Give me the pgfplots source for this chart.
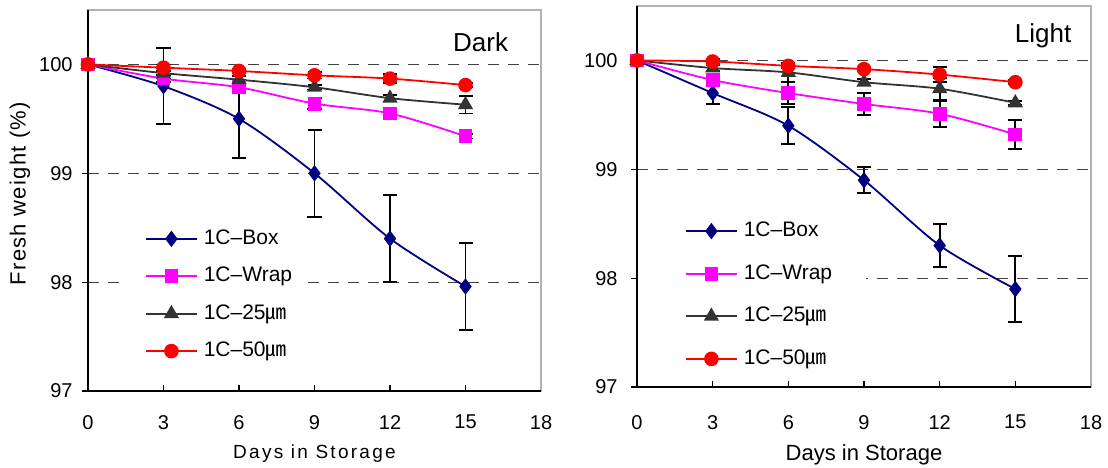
\documentclass[border=0pt]{standalone}
\usepackage{fontspec}
\setmainfont{Liberation Sans}
\newfontfamily\cjk{Noto Sans CJK KR}
\usepackage{pgfplots}
\pgfplotsset{compat=1.18}

\definecolor{boxc}{RGB}{0,0,128}
\definecolor{wrapc}{RGB}{255,0,255}
\definecolor{thinc}{RGB}{51,51,51}
\definecolor{thickc}{RGB}{255,0,0}

\pgfplotsset{
  fw axis/.style={
      scale only axis,
      height=190.5bp,
      xmin=0, xmax=18,
      ymin=97, ymax=100.5,
      xtick={0,3,...,18},
      ytick={97,98,99,100},
      xtick pos=left, ytick pos=left,
      xtick align=inside, ytick align=outside,
      major tick length=3bp,
      tick style={black, line width=0.6bp},
      axis line style={draw=gray!60, line width=0.7bp},
      ymajorgrids,
      major grid style={draw=black!75, line width=0.6bp, dash pattern=on 5.5bp off 4.5bp},
      tick label style={font=\fontsize{10bp}{12bp}\selectfont},
      /pgf/number format/assume math mode=true,
      clip=false,
      legend cell align=left,
      legend style={
          draw=none,
          fill=white,
          anchor=north west,
          inner ysep=5bp,
          column sep=3.25bp,
          font=\fontsize{10.5bp}{12bp}\selectfont,
          nodes={inner sep=0pt, text height=7.5bp, text depth=2bp},
        },
    },
  leg img/.style={
      legend image code/.code={
          \path[draw=none, fill=none] (0bp,0bp) -- (#1,0bp);
          \draw[mark repeat=2, mark phase=2]
          plot coordinates {(#1,0bp) (#1+12.5bp,0bp) (#1+25bp,0bp)};
        }
    },
  errs/.style={
      only marks, mark=*, mark size=0pt, forget plot,
      error bars/.cd, y dir=both, y explicit,
      error mark=-,
      error bar style={black, line width=0.9bp},
      error mark options={rotate=90, black, line width=0.9bp, mark size=3.5bp},
    },
  s box/.style={boxc, line width=0.9bp, smooth, tension=0.5,
      mark=diamond*, mark size=3.4bp, mark options={solid, fill=boxc}},
  s wrap/.style={wrapc, line width=0.9bp, smooth, tension=0.5,
      mark=square*, mark size=3bp, mark options={solid, fill=wrapc}},
  s thin/.style={thinc, line width=0.9bp, smooth, tension=0.5,
      mark=triangle*, mark size=3.5bp, mark options={solid, fill=thinc}},
  s thick/.style={thickc, line width=0.9bp, smooth, tension=0.5,
      mark=*, mark size=3.2bp, mark options={solid, fill=thickc}},
}

\begin{document}
\begin{tikzpicture}
  \path[use as bounding box] (0bp,0bp) rectangle (554bp,234bp);

  % ---------------- Dark ----------------
  \begin{axis}[
      fw axis,
      width=226.5bp,
      at={(44bp,38.5bp)}, anchor=south west,
      yticklabel style={xshift=-1.2bp},
      xticklabel style={yshift=-8.5bp},
      xlabel={\addfontfeature{LetterSpace=12}Days in Storage},
      xlabel style={font=\fontsize{9.5bp}{11bp}\selectfont,
          at={(axis description cs:0.5,-0.165)}, anchor=center},
      ylabel={\addfontfeature{LetterSpace=6}Fresh weight (\%)},
      ylabel style={font=\fontsize{11bp}{13bp}\selectfont,
          at={(axis description cs:-0.15,0.518)}, anchor=center},
      legend style={at={(axis cs:1.55,98.58)}, inner xsep=7bp, row sep=9.2bp},
      leg img=2.5bp,
    ]

    % error bars first, so that the markers sit on top
    \addplot[errs] coordinates {
        (3,99.80) +- (0,0.35)
        (6,99.50) +- (0,0.36)
        (9,99.00) +- (0,0.40)
        (12,98.40) +- (0,0.40)
        (15,97.96) +- (0,0.40)
      };
    \addplot[errs] coordinates {
        (3,99.87) +- (0,0.03)
        (6,99.79) +- (0,0.03)
        (9,99.64) +- (0,0.05)
        (12,99.55) +- (0,0.03)
        (15,99.34) +- (0,0.02)
      };
    \addplot[errs] coordinates {
        (3,99.92) +- (0,0.05)
        (6,99.86) +- (0,0.03)
        (9,99.79) +- (0,0.02)
        (12,99.69) +- (0,0.03)
        (15,99.63) +- (0,0.08)
      };
    \addplot[errs] coordinates {
        (3,99.97) +- (0,0.03)
        (6,99.94) +- (0,0.02)
        (9,99.90) +- (0,0.03)
        (12,99.87) +- (0,0.04)
        (15,99.81) +- (0,0.02)
      };

    \addplot[s box] coordinates {
        (0,100) (3,99.80) (6,99.50) (9,99.00) (12,98.40) (15,97.96)
      };
    \addlegendentry{1C–Box}
    \addplot[s wrap] coordinates {
        (0,100) (3,99.87) (6,99.79) (9,99.64) (12,99.55) (15,99.34)
      };
    \addlegendentry{1C–Wrap}
    \addplot[s thin] coordinates {
        (0,100) (3,99.92) (6,99.86) (9,99.79) (12,99.69) (15,99.63)
      };
    \addlegendentry{1C–25{\cjk ㎛}}
    \addplot[s thick] coordinates {
        (0,100) (3,99.97) (6,99.94) (9,99.90) (12,99.87) (15,99.81)
      };
    \addlegendentry{1C–50{\cjk ㎛}}

    \draw[black, line width=0.8bp]
    (rel axis cs:0,1) -- (rel axis cs:0,0) -- (rel axis cs:1,0);
    \node[font=\fontsize{13bp}{15bp}\selectfont] at (axis cs:15.6,100.2) {Dark};
  \end{axis}

  % ---------------- Light ----------------
  \begin{axis}[
      fw axis,
      width=227bp,
      at={(318.5bp,40.5bp)}, anchor=south west,
      yticklabel style={xshift=-3.2bp},
      xticklabel style={yshift=-10.5bp},
      xlabel={Days in Storage},
      xlabel style={font=\fontsize{11bp}{13bp}\selectfont,
          at={(axis description cs:0.5,-0.178)}, anchor=center},
      legend style={at={(axis cs:0,98.615)}, xshift=0.5bp, inner xsep=17bp, row sep=11.8bp},
      leg img=7bp,
    ]

    \addplot[errs] coordinates {
        (3,99.70) +- (0,0.10)
        (6,99.40) +- (0,0.17)
        (9,98.90) +- (0,0.12)
        (12,98.30) +- (0,0.20)
        (15,97.90) +- (0,0.30)
      };
    \addplot[errs] coordinates {
        (3,99.82) +- (0,0.05)
        (6,99.70) +- (0,0.10)
        (9,99.60) +- (0,0.10)
        (12,99.51) +- (0,0.12)
        (15,99.32) +- (0,0.13)
      };
    \addplot[errs] coordinates {
        (3,99.93) +- (0,0.03)
        (6,99.89) +- (0,0.09)
        (9,99.80) +- (0,0.03)
        (12,99.74) +- (0,0.10)
        (15,99.61) +- (0,0.02)
      };
    \addplot[errs] coordinates {
        (3,99.99) +- (0,0.02)
        (6,99.95) +- (0,0.02)
        (9,99.92) +- (0,0.02)
        (12,99.87) +- (0,0.07)
        (15,99.80) +- (0,0.02)
      };

    \addplot[s box] coordinates {
        (0,100) (3,99.70) (6,99.40) (9,98.90) (12,98.30) (15,97.90)
      };
    \addlegendentry{1C–Box}
    \addplot[s wrap] coordinates {
        (0,100) (3,99.82) (6,99.70) (9,99.60) (12,99.51) (15,99.32)
      };
    \addlegendentry{1C–Wrap}
    \addplot[s thin] coordinates {
        (0,100) (3,99.93) (6,99.89) (9,99.80) (12,99.74) (15,99.61)
      };
    \addlegendentry{1C–25{\cjk ㎛}}
    \addplot[s thick] coordinates {
        (0,100) (3,99.99) (6,99.95) (9,99.92) (12,99.87) (15,99.80)
      };
    \addlegendentry{1C–50{\cjk ㎛}}

    \draw[black, line width=0.8bp]
    (rel axis cs:0,1) -- (rel axis cs:0,0) -- (rel axis cs:1,0);
    \node[font=\fontsize{13bp}{15bp}\selectfont] at (axis cs:16.1,100.23) {Light};
  \end{axis}
\end{tikzpicture}
\end{document}
